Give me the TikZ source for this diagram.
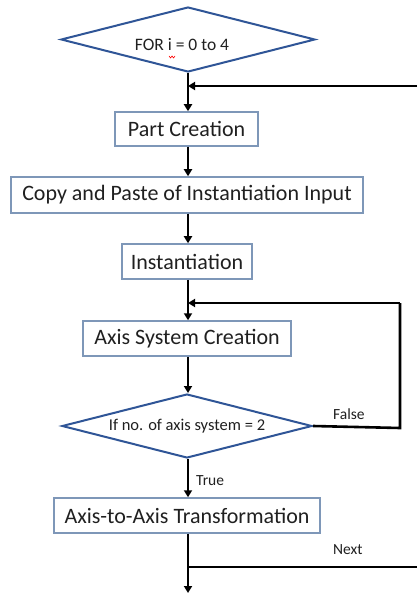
\documentclass[tikz,border=0pt]{standalone}
\usepackage{fontspec}
\setmainfont{Carlito}
\usetikzlibrary{shapes.geometric,arrows.meta}
\definecolor{dblue}{HTML}{2F5597}
\definecolor{bblue}{HTML}{7E97B8}
\definecolor{txt}{HTML}{202020}
\begin{document}
\begin{tikzpicture}[x=1pt,y=-1pt,
  box/.style={draw=bblue,line width=1.5pt,fill=white,inner sep=0pt,text=txt,font=\fontsize{22}{24}\selectfont},
  dia/.style={draw=dblue,line width=2pt,diamond,aspect=3.9,inner sep=0pt,text=txt,font=\fontsize{17.5}{20}\selectfont},
  conn/.style={line width=2.6pt,draw=black},
  arr/.style={conn,-{Triangle[width=8pt,length=7pt]}},
  lbl/.style={text=txt,font=\fontsize{15.5}{18}\selectfont,inner sep=0pt}]
\useasboundingbox (0,0) rectangle (417,593);
\fill[white] (0,0) rectangle (417,593);

\node[dia,minimum width=254pt,minimum height=65pt] (d1) at (188,39.5) {};
\node[text=txt,font=\fontsize{17.5}{20}\selectfont,inner sep=0pt,anchor=base] (d1t) at (182,51) {FOR i = 0 to 4};
\node[box,minimum width=143pt,minimum height=34pt] (part) at (186.5,129) {Part Creation};
\node[box,minimum width=352pt,minimum height=36pt] (copy) at (187,195) {Copy and Paste of Instantiation Input};
\node[box,minimum width=130pt,minimum height=35pt] (inst) at (187,261.5) {Instantiation};
\node[box,minimum width=208pt,minimum height=35pt] (axis) at (187,338.5) {Axis System Creation};
\node[dia,minimum width=250pt,minimum height=64pt,font=\fontsize{16.5}{19}\selectfont] (d2) at (187,426) {If no. of axis system = 2};
\node[box,minimum width=266pt,minimum height=35pt] (a2a) at (187,515.5) {Axis-to-Axis Transformation};

\draw[red,line width=0.6pt] (169,56) -- (170.5,58) -- (172,56) -- (173.5,58) -- (175,56);

\coordinate (j1) at (188,86);
\coordinate (r1) at (417,86);
\coordinate (j2) at (188,303);
\coordinate (r2) at (400,303);
\coordinate (r3) at (400,428);
\coordinate (j3) at (188,567);
\coordinate (r4) at (417,567);
\coordinate (bot) at (188,593);

\draw[arr] (d1.south) -- (part.north -| j1);
\draw[arr] (r1) -- (j1);
\draw[arr] (part.south -| j1) -- (copy.north -| j1);
\draw[arr] (copy.south -| j1) -- (inst.north -| j1);
\draw[arr] (inst.south -| j1) -- (axis.north -| j1);
\draw[arr] (r2) -- (j2);
\draw[conn] (d2.east) -- (r3) -- (r2);
\draw[arr] (axis.south -| j1) -- (d2.north -| j1);
\draw[arr] (d2.south -| j1) -- (a2a.north -| j1);
\draw[arr] (a2a.south -| j1) -- (bot);
\draw[conn] (j3) -- (r4);

\node[lbl,anchor=west] (tl) at (196,481) {True};
\node[lbl,anchor=west] (fl) at (333,414) {False};
\node[lbl,anchor=west] (nl) at (333,550) {Next};
\end{tikzpicture}
\end{document}
